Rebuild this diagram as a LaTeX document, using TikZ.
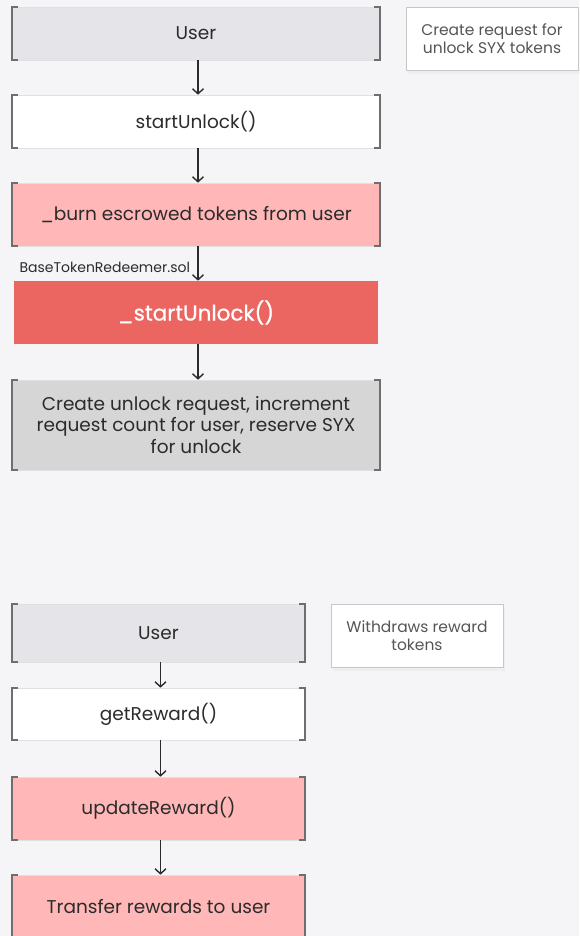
\documentclass[tikz,border=0pt]{standalone}
\usepackage{fontspec}
\setmainfont{Poppins}
\newfontfamily\headfont[FakeBold=0.8]{Poppins}
\usetikzlibrary{arrows.meta,shadows}
\definecolor{bg}{HTML}{F5F5F8}
\definecolor{userfill}{HTML}{E4E4E9}
\definecolor{pinkfill}{HTML}{FFB7B7}
\definecolor{redfill}{HTML}{EC6661}
\definecolor{grayfill}{HTML}{D6D6D6}
\definecolor{brk}{HTML}{6E6E6E}
\definecolor{ink}{HTML}{2B2B2B}
\definecolor{notetext}{HTML}{555555}
\tikzset{
  box/.style={draw=black!12, line width=0.6pt, minimum width=368pt, inner sep=2pt,
    text=ink, font=\fontsize{18.5}{21.5}\selectfont, align=center},
  narrow/.style={box, minimum width=293pt},
  notebox/.style={draw=black!22, fill=white, line width=0.6pt, minimum width=172pt,
    minimum height=63pt, text=notetext, font=\fontsize{15.5}{18}\selectfont, align=center,
    drop shadow={opacity=0.06, shadow xshift=2pt, shadow yshift=-4pt}},
  brkline/.style={draw=brk, line width=2pt},
  flow/.style={draw=ink, line width=1.4pt, -{Straight Barb[length=5pt,width=11pt,line width=1.4pt]}},
}
\newcommand\brackets[1]{%
  \draw[brkline] ([xshift=6pt]#1.north west) -- (#1.north west) -- (#1.south west) -- ([xshift=6pt]#1.south west);
  \draw[brkline] ([xshift=-6pt]#1.north east) -- (#1.north east) -- (#1.south east) -- ([xshift=-6pt]#1.south east);}
\begin{document}
\begin{tikzpicture}[x=1pt,y=-1pt]
\fill[bg] (0,0) rectangle (579,936);
\useasboundingbox (0,0) rectangle (579,936);

% unlock request flow
\node[box, fill=userfill, minimum height=53pt] (u1) at (196,33.5) {User};
\node[notebox] (n1) at (492,38.5) {Create request for\\unlock SYX tokens};
\node[box, fill=white, minimum height=53pt] (s1) at (196,121.5) {startUnlock()};
\node[box, fill=pinkfill, minimum height=63pt] (b1) at (196,214.5) {\_burn escrowed tokens from user};
\node[box, draw=none, fill=redfill, minimum width=364pt, minimum height=63pt, text=white,
  font=\fontsize{21.5}{25}\headfont] (su) at (196,312.5) {\_startUnlock()};
\node[box, fill=grayfill, minimum height=90pt] (c1) at (196,425)
  {Create unlock request, increment\\request count for user, reserve SYX\\for unlock};
\foreach \n in {u1,s1,b1,c1} {\brackets{\n}}

\draw[flow] ([xshift=2pt]u1.south) -- ([xshift=2pt]s1.north);
\draw[flow] ([xshift=2pt]s1.south) -- ([xshift=2pt]b1.north);
\draw[flow] ([xshift=2pt]b1.south) -- ([xshift=2pt]su.north)
  node[pos=0.62, anchor=east, xshift=-4pt, text=ink, font=\fontsize{14}{16}\selectfont] (lbl) {BaseTokenRedeemer.sol};
\draw[flow] ([xshift=2pt]su.south) -- ([xshift=2pt]c1.north);

% reward withdrawal flow
\node[narrow, fill=userfill, minimum height=58pt] (u2) at (158.5,633) {User};
\node[notebox] (n2) at (417,635.5) {Withdraws reward\\tokens};
\node[narrow, fill=white, minimum height=52pt] (g2) at (158.5,714) {getReward()};
\node[narrow, fill=pinkfill, minimum height=63pt] (r2) at (158.5,808.5) {updateReward()};
\node[narrow, fill=pinkfill, minimum height=63pt] (t2) at (158.5,906.5) {Transfer rewards to user};
\foreach \n in {u2,g2,r2,t2} {\brackets{\n}}

\draw[flow] ([xshift=2pt]u2.south) -- ([xshift=2pt]g2.north);
\draw[flow] ([xshift=2pt]g2.south) -- ([xshift=2pt]r2.north);
\draw[flow] ([xshift=2pt]r2.south) -- ([xshift=2pt]t2.north);
\end{tikzpicture}
\end{document}
